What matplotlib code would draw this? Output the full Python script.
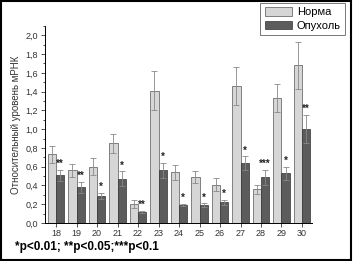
import numpy as np
import matplotlib
matplotlib.use('Agg')
from matplotlib import pyplot as plt
from matplotlib.patches import Rectangle
from matplotlib.ticker import MultipleLocator, FuncFormatter

plt.rcParams['font.family'] = ['Liberation Sans', 'DejaVu Sans']

# data
samples = [18, 19, 20, 21, 22, 23, 24, 25, 26, 27, 28, 29, 30]
norma = [0.73, 0.56, 0.60, 0.85, 0.20, 1.41, 0.54, 0.49, 0.41, 1.46, 0.36, 1.33, 1.68]
norma_err = [0.09, 0.07, 0.09, 0.10, 0.04, 0.21, 0.08, 0.06, 0.07, 0.20, 0.05, 0.15, 0.25]
tumor = [0.51, 0.38, 0.29, 0.47, 0.12, 0.56, 0.19, 0.19, 0.22, 0.64, 0.49, 0.53, 1.00]
tumor_err = [0.06, 0.06, 0.03, 0.08, 0.01, 0.08, 0.01, 0.02, 0.03, 0.07, 0.08, 0.07, 0.15]
stars = ['**', '**', '*', '*', '**', '*', '*', '*', '*', '*', '***', '*', '**']

fig = plt.figure(figsize=(3.53, 2.61), dpi=100)
ax = fig.add_axes([0.1275, 0.1456, 0.757, 0.755])

x = np.array(samples, dtype=float)
w = 0.4
ax.bar(x - w/2, norma, w, yerr=norma_err, color='#d6d6d6', edgecolor='#555555',
       linewidth=0.5, error_kw=dict(ecolor='#888888', elinewidth=0.6, capsize=2, capthick=0.6),
       label='Норма')
ax.bar(x + w/2, tumor, w, yerr=tumor_err, color='#5c5c5c', edgecolor='#333333',
       linewidth=0.5, error_kw=dict(ecolor='#888888', elinewidth=0.6, capsize=2, capthick=0.6),
       label='Опухоль')

for xi, t, e, s in zip(x, tumor, tumor_err, stars):
    ax.text(xi + w/2, t + e + 0.01, s, ha='center', va='bottom', fontsize=7,
            fontweight='bold', color='#222222')

ax.set_xlim(17.46, 30.5)
ax.set_ylim(0, 2.1)
ax.set_xticks(samples)
ax.yaxis.set_major_locator(MultipleLocator(0.2))
ax.yaxis.set_minor_locator(MultipleLocator(0.1))
ax.yaxis.set_major_formatter(FuncFormatter(lambda v, p: ('%.1f' % v).replace('.', ',')))
ax.tick_params(axis='both', labelsize=6.5, width=0.6, length=3, colors='#333333', pad=2)
ax.tick_params(axis='x', pad=1.5)
ax.tick_params(axis='y', which='minor', length=1.5, width=0.5)
ax.spines['top'].set_visible(False)
ax.spines['right'].set_visible(False)
ax.spines['left'].set_linewidth(0.7)
ax.spines['bottom'].set_linewidth(0.7)
ax.set_ylabel('Относительный уровень мРНК', fontsize=7, color='#333333', labelpad=3)

leg = ax.legend(loc='upper right', bbox_to_anchor=(1.124, 1.117), fontsize=8,
                frameon=True, fancybox=False, handlelength=2.5, handleheight=0.8,
                borderpad=0.4, labelspacing=0.3, handletextpad=0.4, borderaxespad=0)
leg.get_frame().set_edgecolor('#555555')
leg.get_frame().set_linewidth(0.7)

fig.text(0.042, 0.055, '*p<0.01; **p<0.05;***p<0.1', fontsize=8.5, fontweight='bold',
         ha='left', va='center')

fig.patches.append(Rectangle((0.003, 0.004), 0.992, 0.992, transform=fig.transFigure,
                             fill=False, edgecolor='black', linewidth=1.5))

plt.savefig('out.png', dpi=100)
